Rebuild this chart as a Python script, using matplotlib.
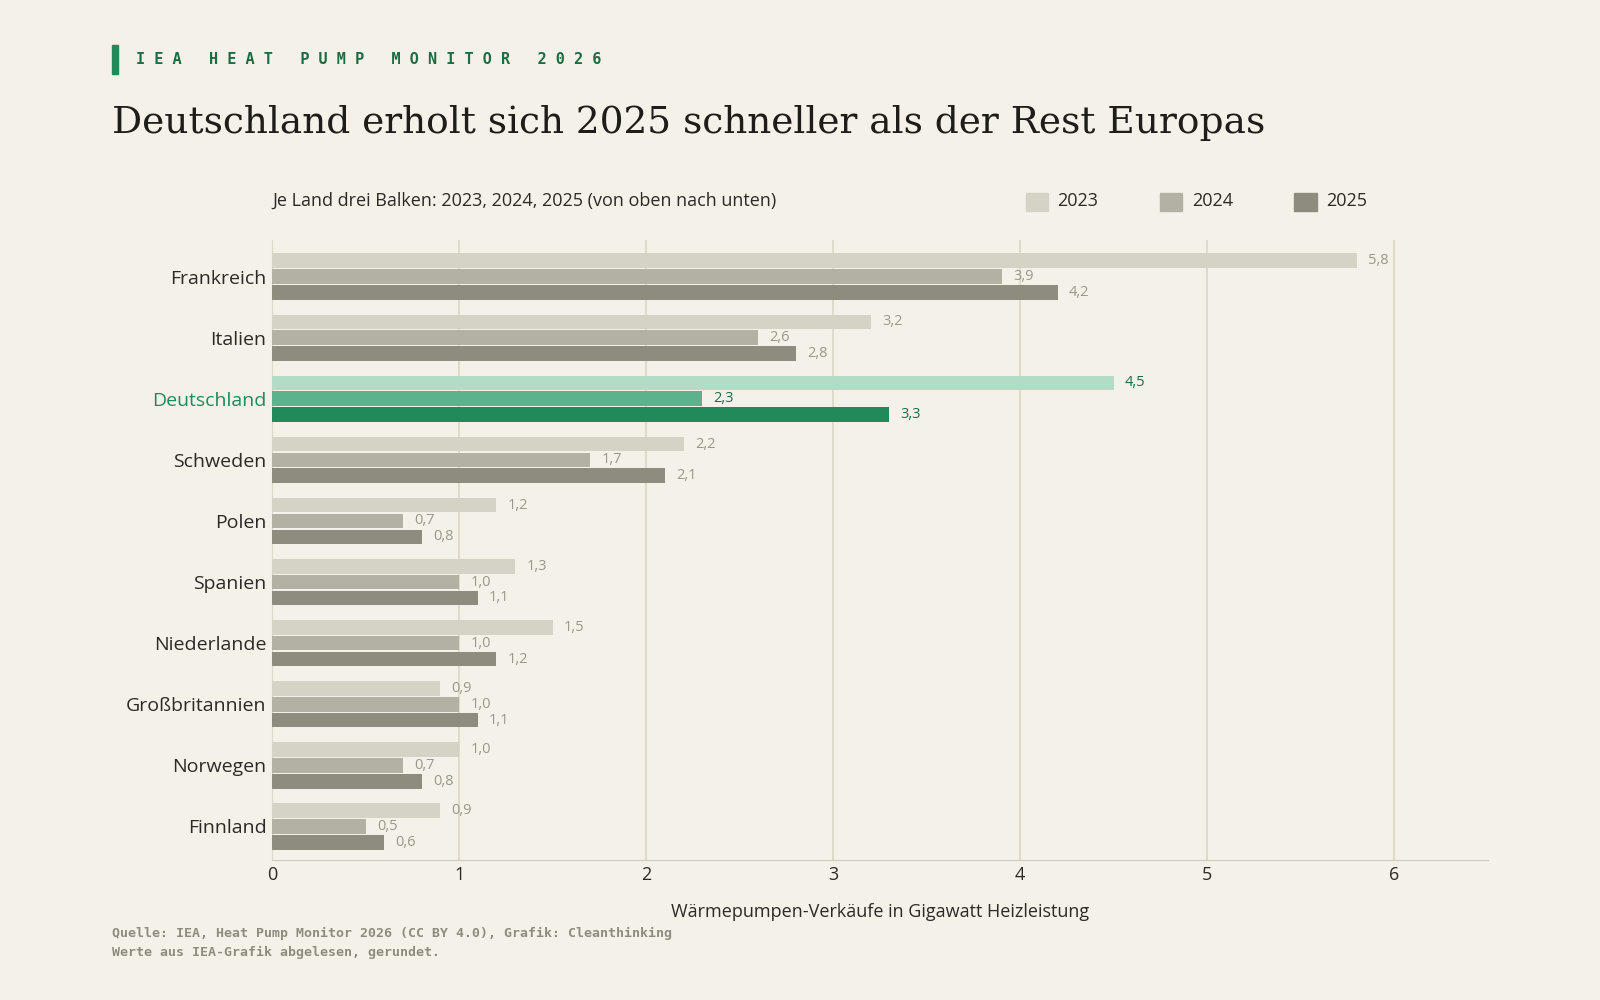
import matplotlib.pyplot as plt
import numpy as np

countries = ["Frankreich", "Italien", "Deutschland", "Schweden", "Polen", "Spanien",
             "Niederlande", "Großbritannien", "Norwegen", "Finnland"]
v2023 = [5.8, 3.2, 4.5, 2.2, 1.2, 1.3, 1.5, 0.9, 1.0, 0.9]
v2024 = [3.9, 2.6, 2.3, 1.7, 0.7, 1.0, 1.0, 1.0, 0.7, 0.5]
v2025 = [4.2, 2.8, 3.3, 2.1, 0.8, 1.1, 1.2, 1.1, 0.8, 0.6]
years = ["2023", "2024", "2025"]

bg = "#f4f1e8"
grey = ["#d5d3c6", "#b3b1a3", "#8e8c7e"]
green = ["#b3dcc6", "#5bb38b", "#1f8a5a"]
sans = "Open Sans"

fig = plt.figure(figsize=(16, 10), dpi=100, facecolor=bg)
ax = fig.add_axes([0.170, 0.140, 0.760, 0.620], facecolor=bg)

y = np.arange(len(countries))
offsets = [-0.26, 0, 0.26]
for k, vals in enumerate([v2023, v2024, v2025]):
    for i, v in enumerate(vals):
        hl = countries[i] == "Deutschland"
        c = green[k] if hl else grey[k]
        ax.barh(y[i] + offsets[k], v, height=0.24, color=c, zorder=3)
        ax.text(v + 0.06, y[i] + offsets[k], f"{v:.1f}".replace(".", ","),
                va="center", ha="left", fontsize=10.5, family=sans,
                color="#1e6b45" if hl else "#9a988b")

ax.set_ylim(len(countries) - 0.45, -0.6)
ax.set_xlim(0, 6.5)
ax.set_yticks(y)
ax.set_yticklabels(countries, fontsize=14, family=sans, color="#2b2a26")
ax.get_yticklabels()[2].set_color("#1f8a5a")
ax.set_xticks(range(7))
ax.set_xticklabels([str(i) for i in range(7)], fontsize=13, family=sans, color="#2b2a26")
ax.tick_params(length=0, pad=4)
ax.grid(axis="x", color="#dedbcd", linewidth=1.5, zorder=0)
for s in ["top", "right"]:
    ax.spines[s].set_visible(False)
ax.spines["left"].set_color("#dedbcd")
ax.spines["bottom"].set_color("#cfccbf")
ax.set_xlabel("Wärmepumpen-Verkäufe in Gigawatt Heizleistung", fontsize=13,
              family=sans, color="#2b2a26", labelpad=14)

fig.patches.append(plt.Rectangle((0.070, 0.926), 0.0035, 0.029, transform=fig.transFigure,
                                 color="#1f8a5a"))
fig.text(0.085, 0.941, " ".join("IEA HEAT PUMP MONITOR 2026"),
         fontsize=11, family="DejaVu Sans Mono", weight="bold", color="#1f6b45", va="center")
fig.text(0.070, 0.877, "Deutschland erholt sich 2025 schneller als der Rest Europas",
         fontsize=27, family="DejaVu Serif", color="#1e1d1a", va="center")
fig.text(0.170, 0.799, "Je Land drei Balken: 2023, 2024, 2025 (von oben nach unten)",
         fontsize=13, family=sans, color="#2b2a26", va="center")
for k, (lx, yr) in enumerate(zip([0.641, 0.725, 0.809], years)):
    fig.patches.append(plt.Rectangle((lx, 0.789), 0.014, 0.018, transform=fig.transFigure,
                                     color=grey[k]))
    fig.text(lx + 0.02, 0.799, yr, fontsize=13, family=sans, color="#2b2a26", va="center")

fig.text(0.070, 0.057, "Quelle: IEA, Heat Pump Monitor 2026 (CC BY 4.0), Grafik: Cleanthinking\n"
         "Werte aus IEA-Grafik abgelesen, gerundet.", fontsize=9.5,
         family="DejaVu Sans Mono", weight="bold", color="#8e8c7e", va="center",
         linespacing=1.6)

fig.savefig("out.png", dpi=100, facecolor=bg)
